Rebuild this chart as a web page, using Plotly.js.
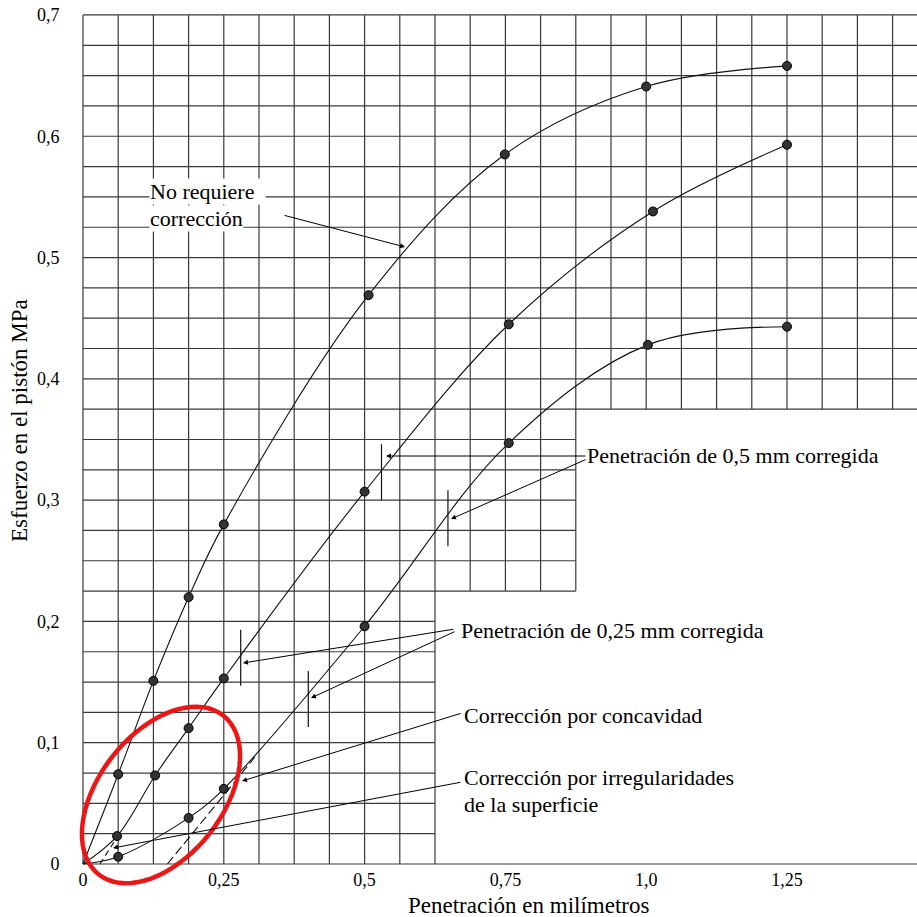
<!DOCTYPE html>
<html><head><meta charset="utf-8">
<script src="https://cdn.plot.ly/plotly-3.0.1.min.js"></script>
<style>html,body{margin:0;padding:0;background:#fff;}</style>
</head><body>
<div id="chart" style="width:917px;height:917px;"></div>
<script>
// ---- data ----
const penA = [0, 0.0625, 0.125, 0.1875, 0.25, 0.507, 0.749, 1.0, 1.25];
const stressA = [0, 0.074, 0.151, 0.220, 0.280, 0.469, 0.585, 0.641, 0.658];   // no requiere corrección
const penB = [0, 0.0605, 0.128, 0.1875, 0.25, 0.5, 0.756, 1.012, 1.25];
const stressB = [0, 0.023, 0.073, 0.112, 0.153, 0.307, 0.445, 0.538, 0.593];   // corrección por irregularidades
const penC = [0, 0.0625, 0.1875, 0.25, 0.5, 0.756, 1.003, 1.25];
const stressC = [0, 0.006, 0.038, 0.062, 0.196, 0.347, 0.428, 0.443];          // corrección por concavidad
const tangentBX = [0.03, 0.066];
const tangentBY = [0, 0.026];
const tangentCX = [0.15, 0.305];
const tangentCY = [0, 0.088];
const correctedX = [0.28, 0.53, 0.40, 0.648];
const correctedY = [0.170, 0.323, 0.136, 0.285];
const xTickVals = [0, 0.25, 0.5, 0.75, 1.0, 1.25];
const xTickText = ['0', '0,25', '0,5', '0,75', '1,0', '1,25'];
const yTickVals = [0, 0.1, 0.2, 0.3, 0.4, 0.5, 0.6, 0.7];
const yTickText = ['0', '0,1', '0,2', '0,3', '0,4', '0,5', '0,6', '0,7'];

// ---- geometry ----
const W = 917, H = 917;
const M = {l: 80, r: 0, t: 12, b: 50};
const pxPerX = 563.2, pxPerY = 1212.9;
const x0px = 83, y0px = 864;
const xRange = [(M.l - x0px) / pxPerX, (W - M.r - x0px) / pxPerX];
const yRange = [(y0px - (H - M.b)) / pxPerY, (y0px - M.t) / pxPerY];
const dX = px => (px - x0px) / pxPerX;
const dY = py => (y0px - py) / pxPerY;
const pW = W - M.l - M.r, pH = H - M.t - M.b;
const paperX = px => (px - M.l) / pW;
const paperY = py => (H - M.b - py) / pH;

const FONT = '"Liberation Serif", "Times New Roman", Times, serif';
const gridColor = '#3a3a3a';
const shapes = [];
const xStep = 0.0625, yStep = 0.025;
const xMaxGrid = xRange[1];
const nV = Math.floor(xMaxGrid / xStep + 1e-9);
for (let k = 0; k <= nV; k++) {
  const x = k * xStep;
  let yb = 0;
  if (k > 14) yb = 0.375; else if (k > 10) yb = 0.225;
  shapes.push({type: 'line', xref: 'x', yref: 'y', x0: x, x1: x, y0: yb, y1: 0.7,
    line: {color: gridColor, width: 1.2}, layer: 'below'});
}
for (let j = 0; j <= 28; j++) {
  const y = j * yStep;
  let xr = xMaxGrid;
  if (j > 0 && j <= 8) xr = 0.625; else if (j > 8 && j <= 14) xr = 0.875;
  shapes.push({type: 'line', xref: 'x', yref: 'y', x0: 0, x1: xr, y0: y, y1: y,
    line: {color: gridColor, width: 1.2}, layer: 'below'});
}
// red ellipse (highlight), paper coordinates
(function () {
  const cx = 161, cy = 795, A = 101, B = 62, th = 52 * Math.PI / 180;
  let p = '';
  for (let i = 0; i <= 72; i++) {
    const t = i / 72 * 2 * Math.PI;
    const px = cx + A * Math.cos(t) * Math.cos(th) - B * Math.sin(t) * Math.sin(th);
    const py = cy - (A * Math.cos(t) * Math.sin(th) + B * Math.sin(t) * Math.cos(th));
    p += (i === 0 ? 'M' : 'L') + paperX(px).toFixed(5) + ',' + paperY(py).toFixed(5);
  }
  p += 'Z';
  shapes.push({type: 'path', xref: 'paper', yref: 'paper', path: p,
    line: {color: 'rgb(236,22,22)', width: 4.5}, fillcolor: 'rgba(0,0,0,0)', layer: 'above'});
})();

const lineStyle = {color: '#111', width: 1.1, shape: 'spline', smoothing: 1};
const markerStyle = {color: '#333', size: 9, line: {color: '#000', width: 1}};
const traces = [
  {x: penA, y: stressA, mode: 'lines', line: lineStyle},
  {x: penB, y: stressB, mode: 'lines', line: lineStyle},
  {x: penC, y: stressC, mode: 'lines', line: lineStyle},
  {x: tangentBX, y: tangentBY, mode: 'lines', line: {color: '#111', width: 1.1, dash: '6px,4px'}},
  {x: tangentCX, y: tangentCY, mode: 'lines', line: {color: '#111', width: 1.1, dash: '9px,4px'}},
  {x: penA.slice(1), y: stressA.slice(1), mode: 'markers', marker: markerStyle},
  {x: penB.slice(1), y: stressB.slice(1), mode: 'markers', marker: markerStyle},
  {x: penC.slice(1), y: stressC.slice(1), mode: 'markers', marker: markerStyle},
  {x: correctedX, y: correctedY, mode: 'markers',
   marker: {symbol: 'line-ns-open', size: 40, color: '#111', line: {color: '#111', width: 1.2}}}
];
traces.forEach(t => { t.showlegend = false; t.hoverinfo = 'skip'; t.cliponaxis = false; });

const txt = (text, px, py, extra) => Object.assign({
  text: text, xref: 'x', yref: 'y', x: dX(px), y: dY(py), xanchor: 'left', yanchor: 'middle',
  showarrow: false, borderpad: 0, font: {family: FONT, size: 22, color: '#000'}
}, extra || {});
const arr = (tx, ty, hx, hy) => ({
  text: '', xref: 'x', yref: 'y', axref: 'x', ayref: 'y', x: dX(hx), y: dY(hy), ax: dX(tx), ay: dY(ty),
  showarrow: true, arrowhead: 2, arrowsize: 1, arrowwidth: 1, arrowcolor: '#000', standoff: 0, startstandoff: 0
});
const annotations = [
  txt('No requiere\u00a0\u00a0', 149, 191, {bgcolor: '#fff'}),
  txt('corrección', 149, 218, {bgcolor: '#fff'}),
  txt('Penetración de 0,5 mm corregida', 586, 455),
  txt('Penetración de 0,25 mm corregida', 460, 630),
  txt('Corrección por concavidad', 463, 715),
  txt('Corrección por irregularidades', 463, 777),
  txt('de la superficie', 463, 804),
  arr(283, 215, 405, 247),
  arr(587, 456, 386, 456),
  arr(587, 459, 451, 519),
  arr(455, 629, 243, 663),
  arr(456, 631, 311, 698),
  arr(462, 713, 242, 781),
  arr(462, 782, 113, 848),
  {text: 'Penetración en milímetros', xref: 'paper', yref: 'paper', x: paperX(528), y: paperY(905),
   xanchor: 'center', yanchor: 'middle', showarrow: false, font: {family: FONT, size: 23, color: '#000'}},
  {text: 'Esfuerzo en el pistón MPa', xref: 'paper', yref: 'paper', x: paperX(19), y: paperY(421),
   xanchor: 'center', yanchor: 'middle', textangle: -90, showarrow: false, font: {family: FONT, size: 23, color: '#000'}}
];

const layout = {
  width: W, height: H, margin: M,
  paper_bgcolor: '#fff', plot_bgcolor: '#fff', showlegend: false,
  font: {family: FONT, color: '#000'},
  xaxis: {range: xRange, showgrid: false, zeroline: false, showline: false,
    tickmode: 'array', tickvals: xTickVals, ticktext: xTickText, ticks: '',
    tickfont: {family: FONT, size: 18, color: '#000'}, fixedrange: true},
  yaxis: {range: yRange, showgrid: false, zeroline: false, showline: false,
    tickmode: 'array', tickvals: yTickVals, ticktext: yTickText, ticks: 'outside', ticklen: 16,
    tickcolor: 'rgba(0,0,0,0)', tickfont: {family: FONT, size: 18, color: '#000'}, fixedrange: true},
  shapes: shapes, annotations: annotations
};
Plotly.newPlot('chart', traces, layout, {staticPlot: true, displayModeBar: false});
</script>
</body></html>
